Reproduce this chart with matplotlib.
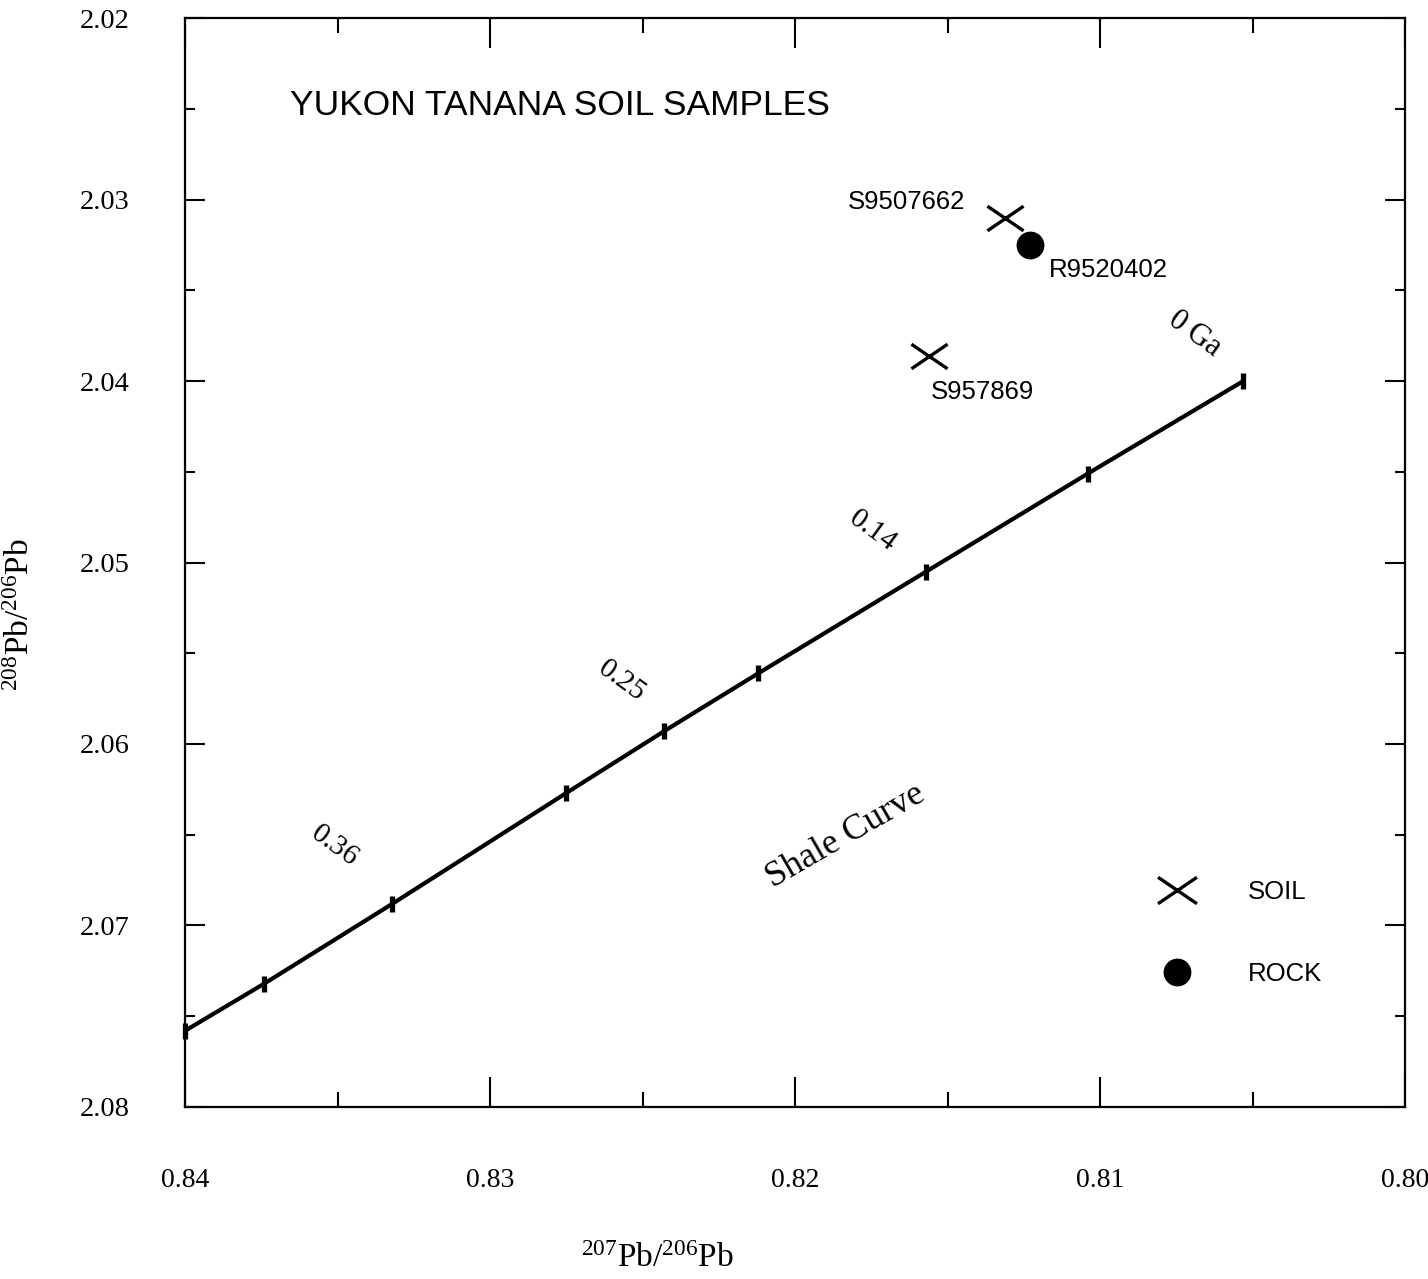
import matplotlib
matplotlib.use("Agg")
import matplotlib.pyplot as plt
from matplotlib.path import Path
from matplotlib.lines import Line2D
from matplotlib.ticker import MultipleLocator, FixedLocator

# ---------------- data ----------------
shale_x = [0.8400, 0.8374, 0.8332, 0.8275, 0.8243, 0.8212, 0.8157, 0.8104, 0.8053]
shale_y = [2.0758, 2.0732, 2.0688, 2.0627, 2.0593, 2.0561, 2.0505, 2.0451, 2.0400]

soil_names = ["S9507662", "S957869"]
soil_x = [0.8131, 0.8156]
soil_y = [2.0310, 2.0386]

rock_names = ["R9520402"]
rock_x = [0.8123]
rock_y = [2.0325]

age_labels = ["0.36", "0.25", "0.14"]

x_ticks = [0.84, 0.83, 0.82, 0.81, 0.80]
x_tick_labels = ["0.84", "0.83", "0.82", "0.81", "0.80"]
y_ticks = [2.02, 2.03, 2.04, 2.05, 2.06, 2.07, 2.08]
y_tick_labels = ["2.02", "2.03", "2.04", "2.05", "2.06", "2.07", "2.08"]

# ---------------- style ----------------
plt.rcParams["mathtext.fontset"] = "custom"
plt.rcParams["mathtext.rm"] = "Liberation Serif"
plt.rcParams["mathtext.it"] = "Liberation Serif:italic"
SERIF = "Liberation Serif"
SANS = "Liberation Sans"

cross = Path([(-1, -0.68), (1, 0.68), (-1, 0.68), (1, -0.68)],
             [Path.MOVETO, Path.LINETO, Path.MOVETO, Path.LINETO])

fig = plt.figure(figsize=(14.28, 12.79), dpi=100)
ax = fig.add_axes([0.1296, 0.1345, 0.8543, 0.8514])

ax.set_xlim(0.84, 0.80)
ax.set_ylim(2.08, 2.02)

for s in ax.spines.values():
    s.set_linewidth(1.6)

ax.xaxis.set_major_locator(FixedLocator(x_ticks))
ax.xaxis.set_minor_locator(MultipleLocator(0.005))
ax.yaxis.set_major_locator(FixedLocator(y_ticks))
ax.yaxis.set_minor_locator(MultipleLocator(0.005))
ax.set_xticklabels(x_tick_labels, fontfamily=SERIF, fontsize=20)
ax.set_yticklabels(y_tick_labels, fontfamily=SERIF, fontsize=20.5)

ax.tick_params(axis="x", which="major", direction="in", length=21.6, width=1.5,
               top=True, bottom=True, pad=44)
ax.tick_params(axis="x", which="minor", direction="in", length=10.8, width=1.5,
               top=True, bottom=True)
ax.tick_params(axis="y", which="major", direction="in", length=14.4, width=1.5,
               left=True, right=True, pad=40)
ax.tick_params(axis="y", which="minor", direction="in", length=7.2, width=1.5,
               left=True, right=True)

# shale curve
ax.plot(shale_x, shale_y, color="black", lw=3.0, solid_capstyle="butt", zorder=3,
        clip_on=False)
ax.plot(shale_x, shale_y, linestyle="none", marker="|", markersize=12, mew=3.8,
        color="black", zorder=4, clip_on=False)

# samples
ax.plot(soil_x, soil_y, linestyle="none", marker=cross, markersize=26,
        mfc="none", mec="black", mew=2.4, zorder=5)
ax.plot(rock_x, rock_y, linestyle="none", marker="o", markersize=19,
        color="black", zorder=5)

lbl = dict(fontfamily=SANS, fontsize=18.5, textcoords="offset points", va="center")
ax.annotate(soil_names[0], (soil_x[0], soil_y[0]), xytext=(-29, 11), ha="right", **lbl)
ax.annotate(soil_names[1], (soil_x[1], soil_y[1]), xytext=(1.5, -26), ha="left", **lbl)
ax.annotate(rock_names[0], (rock_x[0], rock_y[0]), xytext=(14, -18), ha="left", **lbl)

# curve annotations
ax.text(0.8069, 2.0374, r"$\mathit{0}$ Ga", fontfamily=SERIF, fontsize=22,
        rotation=-36, ha="center", va="center")
age_pos = [(0.83508, 2.0655), (0.82567, 2.0564), (0.81744, 2.0482)]
for (px, py), t in zip(age_pos, age_labels):
    ax.text(px, py, r"$\mathit{%s}$" % t, fontsize=21, rotation=-36,
            ha="center", va="center")
ax.text(0.81833, 2.0651, "Shale Curve", fontfamily=SERIF, fontsize=26,
        rotation=30, ha="center", va="center")

# title
ax.text(0.086, 0.920, "YUKON TANANA SOIL SAMPLES", transform=ax.transAxes,
        fontfamily=SANS, fontsize=25.5, ha="left", va="center")

# legend
handles = [
    Line2D([], [], linestyle="none", marker=cross, markersize=28, mfc="none",
           mec="black", mew=2.4, label="SOIL"),
    Line2D([], [], linestyle="none", marker="o", markersize=19, color="black",
           label="ROCK"),
]
leg = ax.legend(handles=handles, loc="upper left", bbox_to_anchor=(0.792, 0.208),
                frameon=False, borderaxespad=0, borderpad=0, handlelength=2,
                handletextpad=1.76, labelspacing=2.25,
                prop={"family": SANS, "size": 18.5})

# axis labels
ax.set_xlabel(r"$^{207}$Pb/$^{206}$Pb", fontfamily=SERIF, fontsize=24)
ax.xaxis.set_label_coords(0.387, -0.139)
ax.xaxis.label.set_va("center")
ax.set_ylabel(r"$^{208}$Pb/$^{206}$Pb", fontfamily=SERIF, fontsize=24)
ax.yaxis.set_label_coords(-0.135, 0.452)
ax.yaxis.label.set_va("center")

fig.savefig("out.png", dpi=100, facecolor="white")
